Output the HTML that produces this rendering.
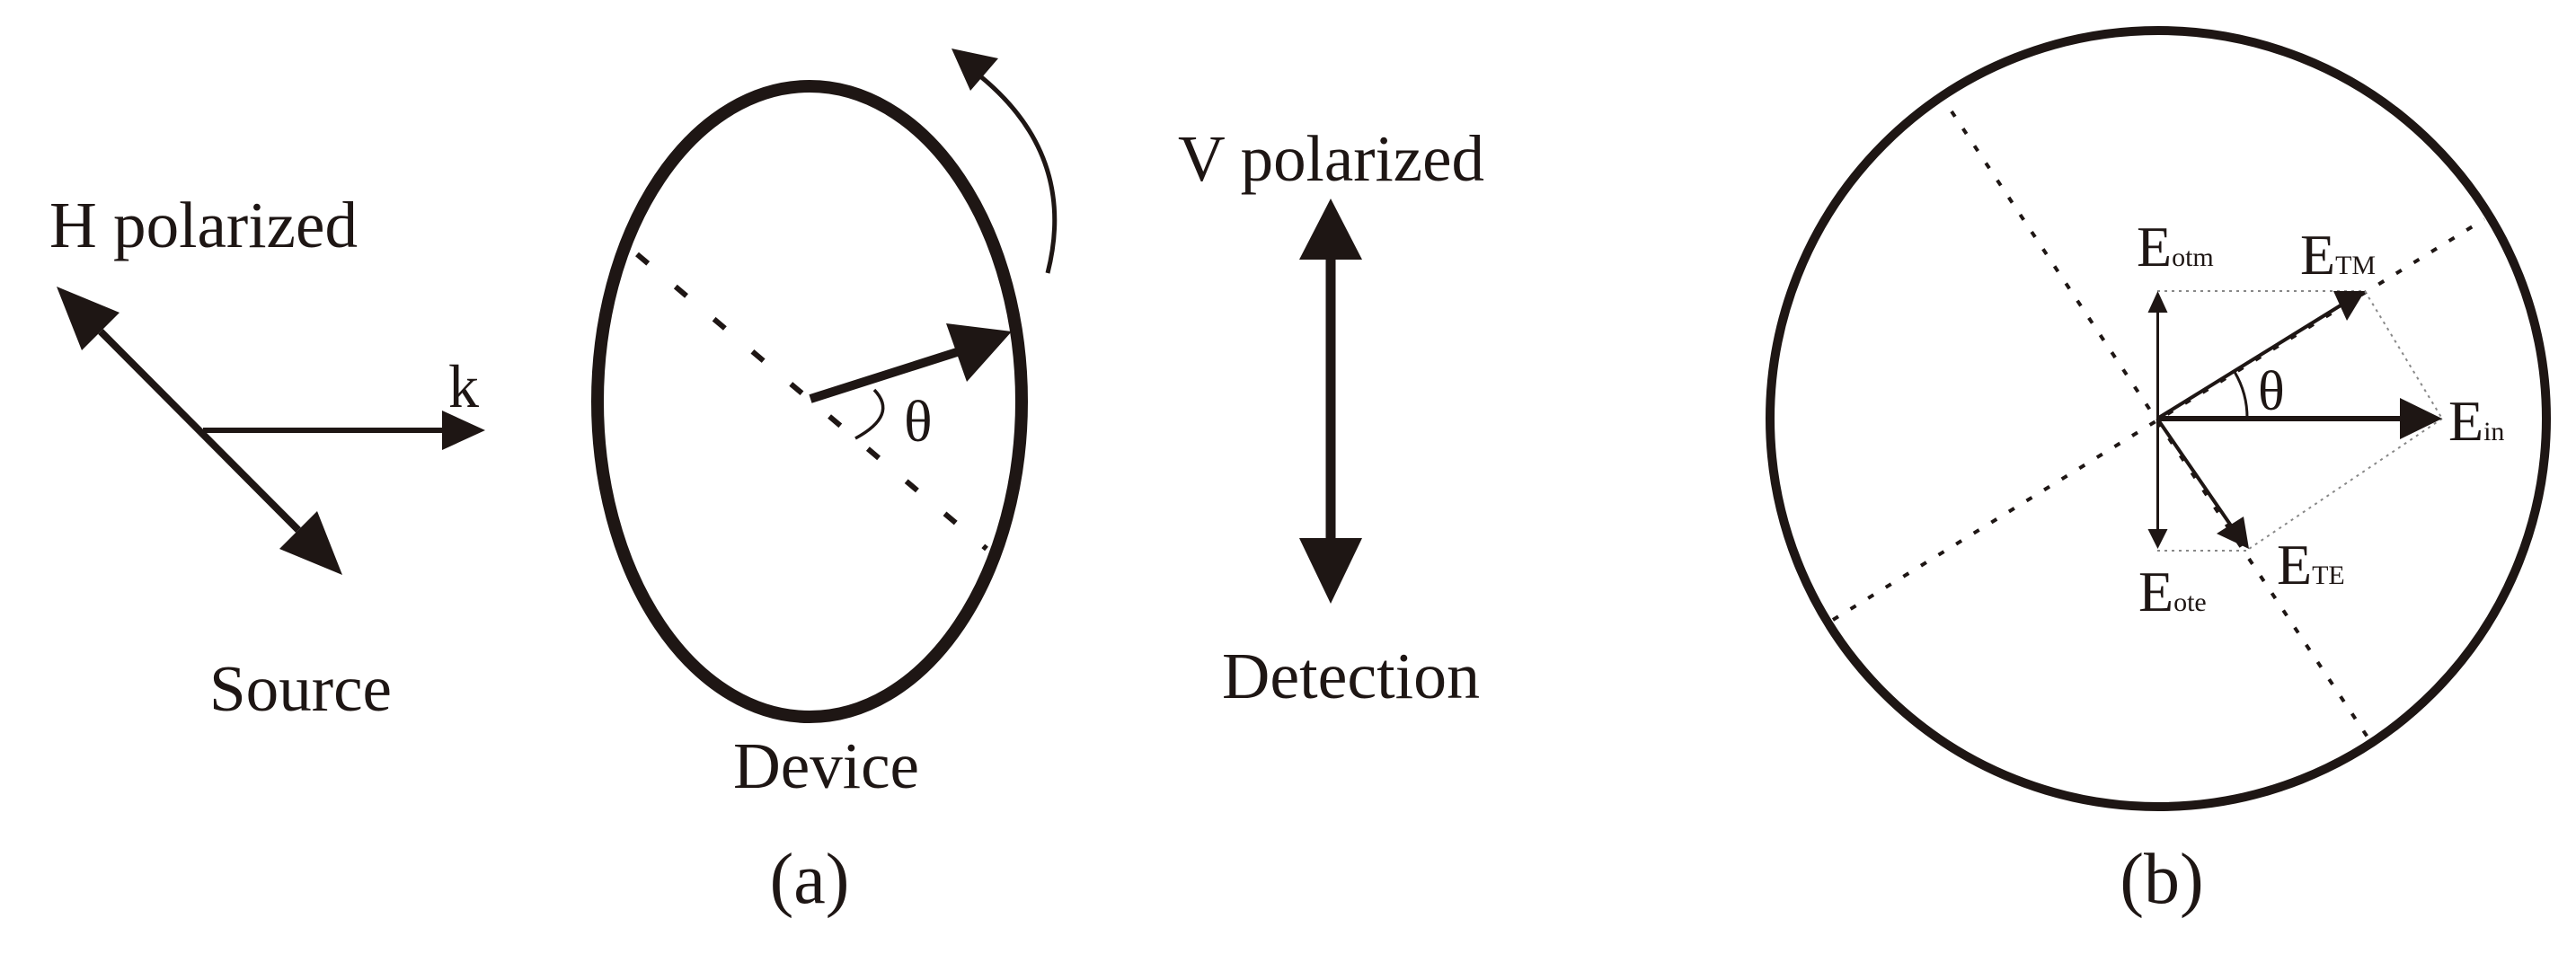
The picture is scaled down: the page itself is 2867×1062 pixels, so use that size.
<!DOCTYPE html>
<html><head><meta charset="utf-8"><style>
html,body{margin:0;padding:0;background:#fff;}
svg{display:block;}
text{font-family:"Liberation Serif",serif;fill:#1e1614;}
</style></head><body>
<svg width="2867" height="1062" viewBox="0 0 2867 1062" xmlns="http://www.w3.org/2000/svg">
<rect width="2867" height="1062" fill="#fff"/>
<g stroke="#1e1614" fill="none">
<!-- Source -->
<line x1="112" y1="369" x2="332" y2="590" stroke-width="8"/>
<line x1="226" y1="479" x2="495" y2="479" stroke-width="6"/>
<!-- Device -->
<ellipse cx="901" cy="447" rx="236" ry="351" stroke-width="14"/>
<line x1="709" y1="283" x2="1098" y2="611" stroke-width="6" stroke-dasharray="16 40"/>
<line x1="902" y1="444" x2="1065" y2="392" stroke-width="10"/>
<path d="M973,434 Q1000,462 952,488" stroke-width="3.5"/>
<path d="M1166,304 Q1200,170 1085,80" stroke-width="5"/>
<!-- Detection -->
<line x1="1481" y1="285" x2="1481" y2="603" stroke-width="11"/>
<!-- (b) -->
<circle cx="2402" cy="466" r="432" stroke-width="10"/>
<line x1="2172" y1="124" x2="2636" y2="822" stroke-width="4" stroke-dasharray="7 16"/>
<line x1="2040" y1="690" x2="2765" y2="244" stroke-width="4" stroke-dasharray="7 16"/>
<g stroke="#888" stroke-width="2" stroke-dasharray="3 5">
<line x1="2401" y1="324" x2="2632" y2="324"/>
<line x1="2632" y1="324" x2="2718" y2="466"/>
<line x1="2718" y1="466" x2="2503" y2="611"/>
<line x1="2401" y1="613" x2="2503" y2="613"/>
</g>
<line x1="2401" y1="466" x2="2675" y2="466" stroke-width="6"/>
<line x1="2401" y1="466" x2="2605" y2="340" stroke-width="4"/>
<line x1="2401" y1="466" x2="2485" y2="588" stroke-width="4"/>
<line x1="2401.5" y1="345" x2="2401.5" y2="592" stroke-width="3"/>
<path d="M2487,414 A100,100 0 0 1 2501,466" stroke-width="3"/>
</g>
<g fill="#1e1614">
<polygon points="63,319 91,390 133,348"/>
<polygon points="381,640 311,611 353,569"/>
<polygon points="540,479 492,457 492,501"/>
<polygon points="1126,369 1053,360 1076,425"/>
<polygon points="1059,54 1111,65 1080,101"/>
<polygon points="1481,221 1446,289 1516,289"/>
<polygon points="1481,672 1446,599 1516,599"/>
<polygon points="2718,466 2671,443 2671,489"/>
<polygon points="2632,324 2597,324 2612,357"/>
<polygon points="2503,611 2467,594 2497,575"/>
<polygon points="2401.5,324 2390.5,348 2412.5,348"/>
<polygon points="2401.5,611 2390.5,589 2412.5,589"/>
</g>
<text x="55" y="275" font-size="73" textLength="343" lengthAdjust="spacingAndGlyphs">H polarized</text>
<text x="499" y="453" font-size="68">k</text>
<text x="233" y="791" font-size="73" textLength="203" lengthAdjust="spacingAndGlyphs">Source</text>
<text x="1006" y="491" font-size="66">θ</text>
<text x="816" y="877" font-size="73" textLength="207" lengthAdjust="spacingAndGlyphs">Device</text>
<text x="901" y="1005" font-size="80" text-anchor="middle">(a)</text>
<text x="1311" y="201" font-size="73" textLength="341" lengthAdjust="spacingAndGlyphs">V polarized</text>
<text x="1360" y="777" font-size="73" textLength="287" lengthAdjust="spacingAndGlyphs">Detection</text>
<text x="2406" y="1005" font-size="80" text-anchor="middle">(b)</text>
<text x="2513" y="456" font-size="62">θ</text>
<text x="2378" y="296" font-size="64">E<tspan font-size="30">otm</tspan></text>
<text x="2560" y="305" font-size="64">E<tspan font-size="30">TM</tspan></text>
<text x="2725" y="490" font-size="64">E<tspan font-size="30">in</tspan></text>
<text x="2534" y="650" font-size="64">E<tspan font-size="30">TE</tspan></text>
<text x="2380" y="680" font-size="64">E<tspan font-size="30">ote</tspan></text>
</svg>
</body></html>
